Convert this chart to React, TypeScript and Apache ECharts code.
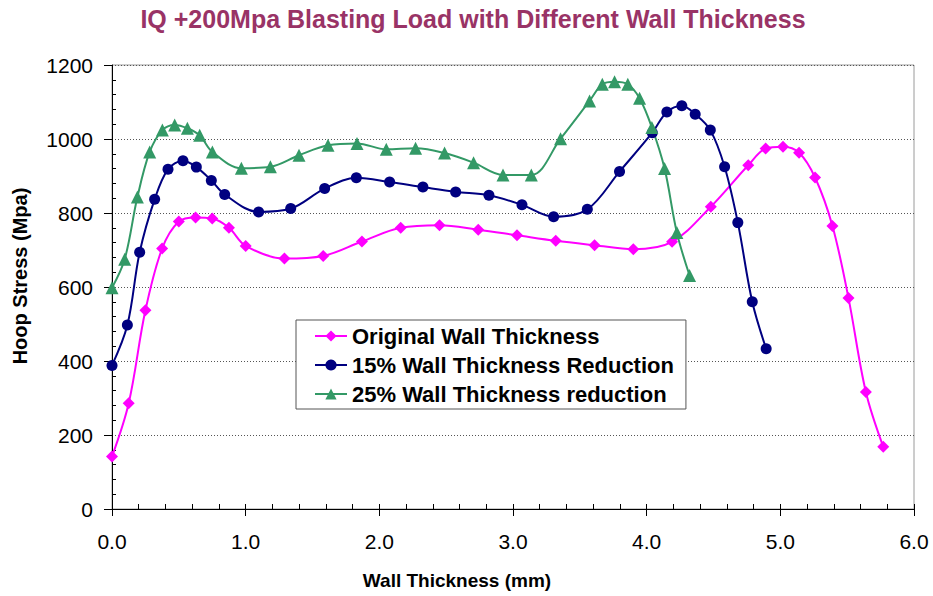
import React, { useEffect, useRef } from "react";
import * as echarts from "echarts";

const titleText = "IQ +200Mpa Blasting Load with Different Wall Thickness";
const xAxisTitle = "Wall Thickness (mm)";
const yAxisTitle = "Hoop Stress (Mpa)";
const seriesNames = [
  "Original Wall Thickness",
  "15% Wall Thickness Reduction",
  "25% Wall Thickness reduction",
];

const thickOrig = [0, 0.125, 0.25, 0.375, 0.5, 0.625, 0.75, 0.875, 1.0, 1.29, 1.58, 1.87, 2.16, 2.45, 2.74, 3.03, 3.32, 3.61, 3.9, 4.19, 4.48, 4.76, 4.89, 5.02, 5.14, 5.26, 5.39, 5.51, 5.64, 5.77];
const stressOrig = [142, 286, 537, 704, 777, 788, 785, 760, 711, 677, 684, 723, 760, 767, 755, 740, 725, 713, 702, 722, 817, 929, 974, 979, 963, 896, 765, 570, 316, 168];

const thick15 = [0, 0.115, 0.207, 0.319, 0.419, 0.531, 0.631, 0.743, 0.843, 1.097, 1.337, 1.591, 1.828, 2.077, 2.326, 2.571, 2.82, 3.067, 3.304, 3.556, 3.797, 4.042, 4.151, 4.263, 4.363, 4.476, 4.583, 4.682, 4.79, 4.894];
const stress15 = [388, 497, 694, 837, 918, 941, 924, 888, 850, 803, 812, 866, 895, 884, 870, 857, 848, 822, 790, 810, 912, 1017, 1073, 1090, 1067, 1024, 925, 774, 560, 433];

const thick25 = [0, 0.095, 0.19, 0.282, 0.377, 0.469, 0.564, 0.656, 0.751, 0.968, 1.185, 1.399, 1.616, 1.833, 2.052, 2.271, 2.488, 2.705, 2.925, 3.137, 3.356, 3.573, 3.668, 3.76, 3.859, 3.947, 4.039, 4.134, 4.226, 4.321];
const stress25 = [598, 675, 843, 965, 1024, 1038, 1029, 1010, 965, 921, 925, 956, 983, 988, 972, 975, 962, 936, 903, 903, 1001, 1103, 1148, 1155, 1148, 1110, 1031, 920, 747, 631];

const FONT = "'Liberation Sans', Arial, sans-serif";

function pairs(xs: number[], ys: number[]) {
  return xs.map((x, i) => [x, ys[i]]);
}

export default function App() {
  const ref = useRef<HTMLDivElement>(null);
  useEffect(() => {
    if (!ref.current) return;
    const chart = echarts.init(ref.current, undefined, { renderer: "svg" });
    const mkSeries = (name: string, data: number[][], color: string, symbol: string, size: number) => ({
      name,
      type: "line",
      data,
      smooth: 0.35,
      symbol,
      symbolSize: size,
      showSymbol: true,
      lineStyle: { color, width: 2 },
      itemStyle: { color },
      xAxisIndex: 0,
      yAxisIndex: 0,
      z: 3,
    });
    chart.setOption({
      animation: false,
      backgroundColor: "#ffffff",
      grid: {
        left: 112,
        top: 65,
        right: 19,
        bottom: 87,
        show: true,
        borderColor: "#9a9a9a",
        borderWidth: 1,
        backgroundColor: "transparent",
      },
      legend: {
        orient: "vertical",
        left: 296,
        top: 320,
        padding: [5, 12, 4, 18],
        itemGap: 7,
        itemWidth: 32,
        itemHeight: 14,
        borderColor: "#555555",
        borderWidth: 1,
        backgroundColor: "#ffffff",
        textStyle: { fontFamily: FONT, fontWeight: "bold", fontSize: 22, color: "#000000" },
        data: seriesNames,
      },
      xAxis: [
        {
          type: "value",
          min: 0,
          max: 6,
          interval: 1,
          axisLine: { show: true, onZero: false, lineStyle: { color: "#000000", width: 1 } },
          axisTick: { show: true, inside: false, length: 7, lineStyle: { color: "#000000" } },
          minorTick: { show: false },
          splitLine: { show: false },
          axisLabel: {
            margin: 22,
            fontFamily: FONT,
            fontSize: 21,
            color: "#000000",
            formatter: (v: number) => v.toFixed(1),
          },
        },
        {
          type: "value",
          position: "bottom",
          min: 0,
          max: 6,
          interval: 1,
          axisLine: { show: false },
          axisTick: { show: true, inside: true, length: 5, lineStyle: { color: "#000000" } },
          minorTick: { show: true, splitNumber: 5, length: 5, lineStyle: { color: "#000000" } },
          splitLine: { show: false },
          axisLabel: { show: false },
        },
      ],
      yAxis: [
        {
          type: "value",
          min: 0,
          max: 1200,
          interval: 200,
          axisLine: { show: true, onZero: false, lineStyle: { color: "#000000", width: 1 } },
          axisTick: { show: true, inside: false, length: 8, lineStyle: { color: "#000000" } },
          minorTick: { show: false },
          splitLine: { show: true, lineStyle: { color: "#555555", type: [1, 2], width: 1 } },
          axisLabel: {
            margin: 19,
            fontFamily: FONT,
            fontSize: 21,
            color: "#000000",
            formatter: (v: number) => String(v),
          },
        },
        {
          type: "value",
          position: "left",
          min: 0,
          max: 1200,
          interval: 200,
          axisLine: { show: false },
          axisTick: { show: false, inside: true },
          minorTick: { show: true, splitNumber: 5, length: 4, lineStyle: { color: "#000000" } },
          splitLine: { show: false },
          axisLabel: { show: false },
        },
      ],
      graphic: [
        {
          type: "text",
          x: 473,
          y: 19,
          style: {
            text: titleText,
            align: "center",
            verticalAlign: "middle",
            fontFamily: FONT,
            fontWeight: "bold",
            fontSize: 25,
            fill: "#993366",
          },
        },
        {
          type: "text",
          x: 457,
          y: 580,
          style: {
            text: xAxisTitle,
            align: "center",
            verticalAlign: "middle",
            fontFamily: FONT,
            fontWeight: "bold",
            fontSize: 19,
            fill: "#000000",
          },
        },
        {
          type: "text",
          x: 20,
          y: 276,
          rotation: Math.PI / 2,
          style: {
            text: yAxisTitle,
            align: "center",
            verticalAlign: "middle",
            fontFamily: FONT,
            fontWeight: "bold",
            fontSize: 20,
            fill: "#000000",
          },
        },
      ],
      series: [
        mkSeries(seriesNames[0], pairs(thickOrig, stressOrig), "#ff00ff", "diamond", 12),
        mkSeries(seriesNames[1], pairs(thick15, stress15), "#000080", "circle", 11),
        mkSeries(seriesNames[2], pairs(thick25, stress25), "#339966", "triangle", 13),
      ],
    });
    return () => chart.dispose();
  }, []);
  return <div ref={ref} style={{ position: "absolute", left: 0, top: 0, width: 933, height: 596 }} />;
}
